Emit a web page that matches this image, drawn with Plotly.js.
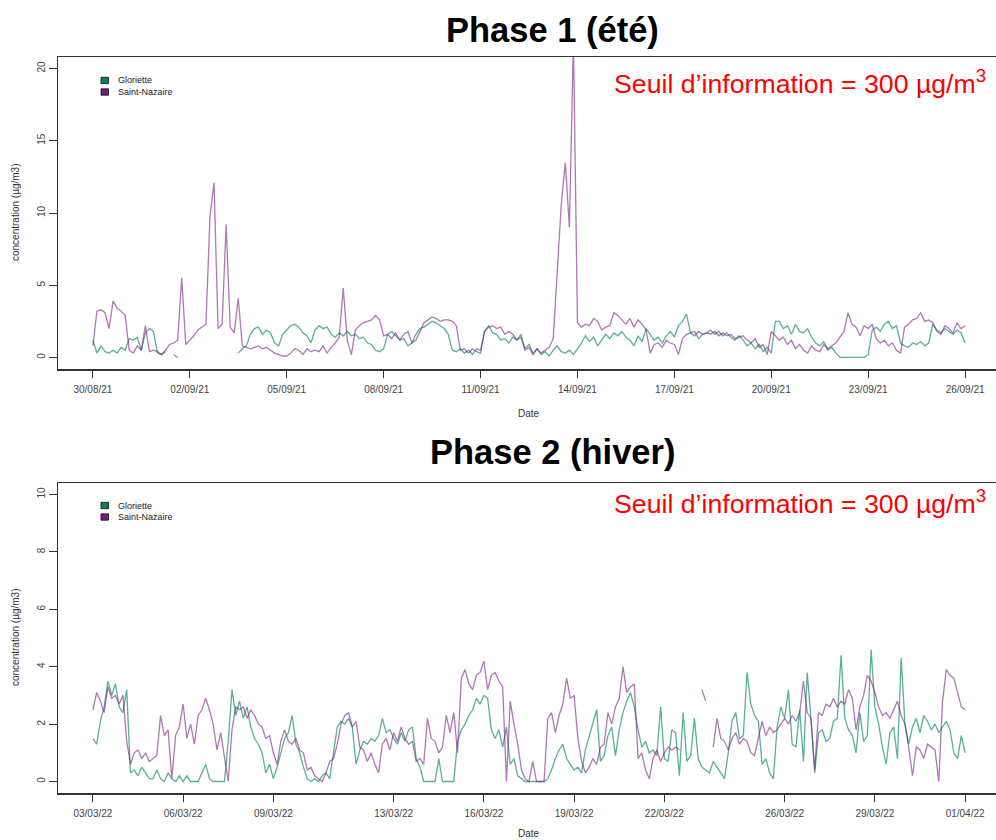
<!DOCTYPE html>
<html>
<head>
<meta charset="utf-8">
<script src="https://cdn.plot.ly/plotly-3.0.1.min.js"></script>
<style>
  html, body { margin: 0; padding: 0; background: #ffffff; overflow: hidden; }
  #chart { width: 996px; height: 840px; }
</style>
</head>
<body>
<div id="chart"></div>
<script>
// Concentrations (µg/m3), one reading every 3 hours from the start date.
const STEP_HOURS = 3;
const phase1Start = '2021-08-30';
const phase2Start = '2022-03-03';
const stations = ['Gloriette', 'Saint-Nazaire'];

const phase1Gloriette = [
  1.2, 0.3, 0.8, 0.4, 0.3, 0.5, 0.3, 0.7,
  0.5, 1.3, 1.2, 1.4, 0.5, 1.7, 2.0, 1.8,
  0.3, 0.2, 0.4, null, 0.2, 0.0, null, null,
  null, null, null, null, null, null, null, null,
  null, null, null, null, 0.3, 0.6, 0.8, 1.6,
  2.0, 2.1, 1.6, 1.9, 1.7, 1.0, 0.8, 1.6,
  1.9, 2.2, 2.3, 2.1, 1.7, 1.5, 1.0, 1.9,
  2.2, 2.0, 2.1, 1.6, 1.4, 1.7, 1.5, 1.8,
  1.5, 1.6, 1.3, 1.4, 1.0, 0.9, 0.5, 0.4,
  0.6, 1.6, 1.8, 1.5, 1.2, 1.3, 0.8, 1.0,
  1.6, 2.0, 2.1, 2.3, 2.5, 2.4, 2.2, 2.0,
  1.6, 0.5, 0.4, 0.6, 0.3, 0.5, 0.2, 0.6,
  0.5, 1.8, 2.2, 1.7, 1.6, 1.2, 1.3, 1.0,
  1.4, 1.2, 1.6, 0.6, 0.9, 0.3, 0.6, 0.2,
  0.4, 0.1, 0.5, 0.8, 0.4, 0.3, 0.5, 0.2,
  0.6, 1.0, 1.5, 1.1, 1.4, 0.8, 1.2, 1.6,
  1.3, 1.7, 1.5, 1.8, 1.4, 1.2, 0.8, 1.5,
  1.1, 2.0, 1.6, 1.2, 1.4, 1.0, 1.5, 1.8,
  1.4, 2.2, 2.5, 3.0, 1.7, 1.8, 1.3, 1.6,
  1.7, 1.9, 1.6, 1.8, 1.5, 1.7, 1.4, 1.2,
  1.5, 1.2, 0.8, 1.0, 0.6, 0.9, 0.4, 0.7,
  0.3, 2.5, 2.5, 2.0, 2.2, 1.6, 2.3, 1.8,
  1.7, 2.0, 1.4, 1.0, 0.8, 1.1, 0.5, 0.7,
  0.3, 0.0, 0.0, 0.0, 0.0, 0.0, 0.0, 0.0,
  0.2, 1.9, 2.1, 1.8, 2.3, 2.5, 2.0, 2.2,
  1.0, 0.8, 0.7, 1.0, 0.9, 1.1, 0.8, 1.0,
  2.3, 1.9, 1.7, 2.0, 1.8, 1.6, 1.9, 1.7,
  1.0
];

const phase1SaintNazaire = [
  0.8, 3.2, 3.3, 3.1, 2.0, 3.9, 3.4, 3.2,
  2.9, 0.5, 0.3, 0.8, 0.5, 2.2, 0.4, 0.5,
  0.4, 0.2, 0.5, 0.9, 1.0, 1.2, 5.5, 0.9,
  1.2, 1.5, 1.9, 2.1, 2.3, 9.8, 12.1, 2.0,
  2.3, 9.2, 2.1, 1.7, 4.1, 0.8, 0.7, 0.6,
  0.7, 0.8, 0.6, 0.7, 0.5, 0.3, 0.2, 0.1,
  0.1, 0.3, 0.6, 0.5, 0.2, 0.6, 0.4, 0.5,
  0.4, 0.8, 0.3, 0.7, 1.0, 1.4, 4.8, 1.2,
  0.2, 1.9, 2.2, 2.4, 2.5, 2.6, 2.9, 2.6,
  1.5, 1.6, 1.3, 1.7, 1.2, 1.6, 1.8, 1.0,
  1.2, 1.8, 2.4, 2.6, 2.8, 2.7, 2.5, 2.6,
  2.6, 2.5, 2.2, 0.5, 0.6, 0.3, 0.6, 0.4,
  0.3, 1.8, 2.1, 2.2, 2.0, 2.1, 1.6, 1.8,
  1.6, 1.2, 1.4, 0.5, 0.7, 0.2, 0.6, 0.3,
  0.5, 0.7, 1.3, 6.0, 10.6, 13.5, 9.0, 22.0,
  2.4, 2.1, 2.3, 2.2, 2.7, 2.5, 1.9, 2.1,
  2.2, 3.1, 2.9, 2.6, 2.3, 2.7, 2.1, 2.6,
  2.3, 1.9, 0.3, 0.9, 1.0, 0.7, 1.2, 1.0,
  0.9, 0.2, 1.3, 1.6, 1.7, 1.5, 1.8, 1.6,
  1.7, 1.6, 1.8, 1.5, 1.7, 1.5, 1.6, 1.3,
  1.4, 1.5, 1.2, 1.0, 1.3, 0.7, 0.9, 0.2,
  1.8, 1.5, 1.2, 1.4, 0.9, 1.2, 0.6, 0.9,
  0.5, 0.3, 0.8, 0.5, 0.4, 0.9, 0.6, 0.8,
  1.0, 1.4, 1.8, 3.1, 2.3, 2.1, 1.5, 2.2,
  2.0, 2.3, 1.3, 1.0, 1.2, 0.8, 1.0, 0.5,
  0.3, 2.1, 2.3, 2.6, 2.7, 3.1, 2.5, 2.6,
  2.4, 1.8, 1.6, 2.2, 2.0, 1.7, 2.4, 2.0,
  2.2
];

const phase2Gloriette = [
  1.5, 1.3, 2.1, 2.6, 3.5, 3.0, 3.4, 2.6,
  2.4, 3.2, 0.3, 0.4, 0.2, 0.5, 0.3, 0.1,
  0.1, 0.4, 0.1, 0.0, 0.3, 0.1, 0.0, 0.2,
  0.0, 0.2, 0.0, 0.0, 0.0, 0.3, 0.6, 0.1,
  0.0, 0.0, 0.0, 0.0, 1.4, 3.2, 2.3, 2.8,
  2.2, 2.6, 1.9, 1.5, 1.3, 1.0, 0.3, 0.6,
  0.1, 0.5, 1.0, 1.5, 1.7, 2.3, 1.3, 1.0,
  0.5, 0.1, 0.0, 0.1, 0.0, 0.2, 0.3, 0.1,
  1.0, 1.9, 2.1, 2.0, 2.2, 1.9, 0.6, 1.1,
  1.4, 1.3, 1.5, 1.4, 1.6, 2.2, 1.7, 1.8,
  1.5, 1.3, 1.7, 1.4, 1.8, 1.9, 0.8, 0.5,
  0.0, 0.0, 0.0, 0.0, 0.8, 0.0, 0.0, 0.0,
  0.0, 1.4, 1.8, 2.0, 2.3, 2.5, 2.9, 2.7,
  3.0, 2.9, 1.8, 1.5, 1.8, 1.2, 1.9, 0.6,
  0.8, 0.2, 0.1, 0.0, 0.0, 0.0, 0.0, 0.0,
  0.0, 0.1, 0.4, 0.8, 1.1, 1.3, 0.8, 0.6,
  0.4, 0.5, 0.3, 1.1, 1.6, 2.0, 2.5, 0.7,
  0.9, 1.6, 1.9, 0.9, 1.8, 2.4, 2.8, 3.1,
  2.6, 1.8, 1.2, 1.4, 1.0, 1.1, 0.9, 2.6,
  0.8, 0.7, 1.8, 1.7, 0.2, 2.4, 0.7, 0.9,
  2.2, 0.8, 0.5, 0.4, 0.3, 0.7, 0.5, 0.3,
  0.1, 1.0, 2.1, 2.4, 1.5, 1.6, 3.8, 2.7,
  2.3, 2.1, 0.6, 0.8, 0.3, 0.1, 1.9, 2.6,
  2.2, 3.2, 1.3, 1.2, 2.5, 0.7, 3.8, 2.2,
  0.3, 1.7, 1.8, 1.4, 1.5, 2.1, 2.2, 4.4,
  2.2, 1.8, 1.6, 1.0, 2.4, 1.4, 1.6, 4.6,
  2.6, 2.0, 1.2, 0.6, 1.7, 1.9, 0.8, 4.3,
  2.0, 1.3, 1.9, 2.2, 1.7, 2.3, 2.1, 1.8,
  2.0, 1.7, 1.9, 2.1, 1.8, 1.0, 0.8, 1.6,
  1.0
];

const phase2SaintNazaire = [
  2.5, 3.1, 2.8, 2.4, 3.3, 2.9, 3.0, 2.7,
  3.0, 1.4, 0.6, 1.0, 1.1, 0.8, 1.0, 0.7,
  0.8, 0.9, 2.3, 1.6, 1.8, 0.1, 1.6, 1.9,
  2.7, 1.5, 2.0, 1.3, 2.3, 2.5, 2.9, 2.5,
  2.0, 1.1, 1.7, 0.8, 0.0, 1.8, 2.6, 2.5,
  2.6, 2.2, 2.5, 2.3, 2.0, 1.9, 1.5, 1.6,
  1.0, 0.6, 1.4, 1.8, 1.4, 1.3, 1.5, 1.1,
  1.0, 0.4, 0.5, 0.2, 0.1, 0.0, 0.3, 0.7,
  0.8, 1.3, 2.0, 2.3, 2.4, 1.9, 2.1, 1.2,
  1.1, 0.7, 1.0, 0.6, 0.3, 1.3, 1.5, 1.1,
  1.7, 1.4, 1.9, 1.5, 1.3, 1.4, 0.7, 0.8,
  0.6, 2.2, 1.5, 1.4, 1.0, 1.2, 2.3, 1.7,
  2.4, 1.0, 3.6, 3.9, 3.4, 3.2, 3.7, 3.8,
  4.2, 3.2, 3.7, 3.8, 3.5, 3.3, 0.0, 2.8,
  2.0, 1.3, 0.4, 0.1, 0.0, 0.7, 0.0, 0.0,
  0.0, 2.2, 2.4, 1.7, 2.3, 2.7, 3.6, 2.9,
  3.0, 1.5, 0.7, 0.3, 0.5, 0.8, 0.6, 1.2,
  1.3, 2.4, 2.0, 2.6, 2.9, 4.0, 3.1, 3.3,
  3.4, 0.8, 1.0, 0.4, 0.1, 0.8, 1.1, 0.7,
  1.0, 1.2, 1.1, 1.2, 1.1, null, null, null,
  null, null, 3.2, 2.8, null, 1.2, 2.2, 1.5,
  1.4, 1.1, 1.5, 1.7, 1.3, 1.5, 1.4, 1.0,
  0.9, 1.5, 2.1, 1.6, 1.9, 1.7, 1.8, 2.0,
  2.2, 2.0, 2.3, 2.1, 2.4, 3.5, 2.4, 2.2,
  0.4, 2.4, 2.3, 2.7, 2.6, 2.9, 2.6, 2.8,
  2.7, 3.2, 2.9, 1.8, 2.6, 3.0, 3.7, 3.5,
  3.1, 2.6, 2.3, 2.4, 2.2, 2.5, 2.8, 2.3,
  2.0, 1.2, 0.2, 1.2, 1.1, 0.8, 1.3, 1.2,
  1.1, 0.0, 2.8, 3.9, 3.7, 3.6, 3.1, 2.6,
  2.5
];

const phase1TickLabels = ['30/08/21', '02/09/21', '05/09/21', '08/09/21', '11/09/21',
                          '14/09/21', '17/09/21', '20/09/21', '23/09/21', '26/09/21'];
const phase2TickLabels = ['03/03/22', '06/03/22', '09/03/22', '13/03/22', '16/03/22',
                          '19/03/22', '22/03/22', '26/03/22', '29/03/22', '01/04/22'];
const phase1YTicks = [0, 5, 10, 15, 20];
const phase2YTicks = [0, 2, 4, 6, 8, 10];
const phase1YMax = 20;
const phase2YMax = 10;

const titles = ['Phase 1 (été)', 'Phase 2 (hiver)'];
const thresholdText = 'Seuil d\u2019information = 300 µg/m<sup>3</sup>';
const yTitle = 'concentration (µg/m3)';
const xTitle = 'Date';

// ---- helpers --------------------------------------------------------------
const HOUR = 3600 * 1000;
function toStamp(ms) {
  return new Date(ms).toISOString().slice(0, 19).replace('T', ' ');
}
function timeline(start, n) {
  const t0 = Date.parse(start + 'T00:00:00Z');
  return Array.from({ length: n }, (_, i) => toStamp(t0 + i * STEP_HOURS * HOUR));
}
function labelToDate(lbl) {
  const [d, m, y] = lbl.split('/');
  return '20' + y + '-' + m + '-' + d;
}
// R-style 4 % padding; the plotting region runs slightly past the page edge.
const VISIBLE_FRACTION = 938 / 942;
function dateRange(start, n) {
  const t0 = Date.parse(start + 'T00:00:00Z');
  const span = (n - 1) * STEP_HOURS * HOUR;
  const lo = t0 - 0.04 * span;
  const hi = lo + 1.08 * span * VISIBLE_FRACTION;
  return [toStamp(lo), toStamp(hi)];
}

// ---- page geometry (px) ---------------------------------------------------
const W = 996, H = 840;
const M = { l: 58, r: 0, t: 57, b: 47 };
const plotW = W - M.l - M.r, plotH = H - M.t - M.b;
const px2x = px => (px - M.l) / plotW;
const px2y = py => (H - M.b - py) / plotH;
const panel1 = [px2y(369), px2y(57)];
const panel2 = [px2y(793), px2y(483)];

const green = 'rgba(0, 136, 98, 0.66)';
const purple = 'rgba(126, 26, 136, 0.6)';
const greenKey = '#00845e';
const purpleKey = '#7a1a84';

const x1 = timeline(phase1Start, phase1Gloriette.length);
const x2 = timeline(phase2Start, phase2Gloriette.length);

function series(x, y, name, color, xa, ya) {
  return { type: 'scatter', mode: 'lines', x: x, y: y, name: name,
           xaxis: xa, yaxis: ya, connectgaps: false, hoverinfo: 'skip',
           line: { color: color, width: 1.3 } };
}

const data = [
  series(x1, phase1Gloriette, stations[0], green, 'x', 'y'),
  series(x1, phase1SaintNazaire, stations[1], purple, 'x', 'y'),
  series(x2, phase2Gloriette, stations[0], green, 'x2', 'y2'),
  series(x2, phase2SaintNazaire, stations[1], purple, 'x2', 'y2')
];

const axisLine = '#333333';
const tickFont = { family: 'Liberation Sans, Arial, sans-serif', size: 10, color: '#444444' };

function xAxis(anchor, start, n, labels) {
  return {
    type: 'date', anchor: anchor, domain: [0, 1],
    range: dateRange(start, n),
    tickmode: 'array', tickvals: labels.map(labelToDate), ticktext: labels,
    ticks: 'outside', ticklen: 7, tickwidth: 1, tickcolor: axisLine,
    ticklabelstandoff: 3,
    showline: true, linecolor: axisLine, linewidth: 1.5, mirror: true,
    showgrid: false, zeroline: false, tickfont: tickFont, fixedrange: true
  };
}
function yAxis(anchor, domain, ymax, ticks) {
  return {
    anchor: anchor, domain: domain,
    range: [-0.04 * ymax, 1.04 * ymax],
    tickmode: 'array', tickvals: ticks, tickangle: -90,
    ticks: 'outside', ticklen: 8, tickwidth: 1, tickcolor: axisLine,
    showline: true, linecolor: axisLine, linewidth: 1.5, mirror: false,
    showgrid: false, zeroline: false, tickfont: tickFont, fixedrange: true
  };
}

const annotations = [];
const shapes = [];
function text(xpx, ypx, txt, font, extra) {
  annotations.push(Object.assign({
    xref: 'paper', yref: 'paper', x: px2x(xpx), y: px2y(ypx), text: txt,
    showarrow: false, xanchor: 'center', yanchor: 'middle', font: font
  }, extra || {}));
}

const titleFont = { family: 'Liberation Sans, Arial, sans-serif', size: 34.5, color: '#000000', weight: 'bold' };
const redFont = { family: 'Liberation Sans, Arial, sans-serif', size: 26.7, color: '#ff0000' };
const labFont = { family: 'Liberation Sans, Arial, sans-serif', size: 10, color: '#333333' };
const keyFont = { family: 'Liberation Sans, Arial, sans-serif', size: 9, color: '#222222' };

// panel titles, threshold notes, axis titles
text(552, 30, '<b>' + titles[0] + '</b>', titleFont);
text(552, 452, '<b>' + titles[1] + '</b>', titleFont);
text(612, 82, thresholdText, redFont, { xanchor: 'left' });
text(612, 502, thresholdText, redFont, { xanchor: 'left' });
text(15, (57 + 369) / 2, yTitle, labFont, { textangle: -90 });
text(15, (483 + 793) / 2, yTitle, labFont, { textangle: -90 });
text(529, 413, xTitle, labFont);
text(529, 833, xTitle, labFont);

// key boxes for both panels
function key(top) {
  const colors = [greenKey, purpleKey];
  stations.forEach((name, i) => {
    const cy = top + i * 11.5;
    shapes.push({
      type: 'rect', xref: 'paper', yref: 'paper',
      x0: px2x(101), x1: px2x(108.5), y0: px2y(cy + 3.2), y1: px2y(cy - 3.2),
      fillcolor: colors[i], line: { color: '#111111', width: 0.8 }
    });
    text(115.5, cy, name, keyFont, { xanchor: 'left' });
  });
}
key(80.5);
key(505.5);

const layout = {
  width: W, height: H, margin: Object.assign({ pad: 0 }, M),
  paper_bgcolor: '#ffffff', plot_bgcolor: '#ffffff',
  showlegend: false,
  font: { family: 'Liberation Sans, Arial, sans-serif', size: 10, color: '#333333' },
  xaxis: xAxis('y', phase1Start, phase1Gloriette.length, phase1TickLabels),
  yaxis: yAxis('x', panel1, phase1YMax, phase1YTicks),
  xaxis2: xAxis('y2', phase2Start, phase2Gloriette.length, phase2TickLabels),
  yaxis2: yAxis('x2', panel2, phase2YMax, phase2YTicks),
  annotations: annotations,
  shapes: shapes
};

Plotly.newPlot('chart', data, layout, { staticPlot: true, displayModeBar: false });
</script>
</body>
</html>
